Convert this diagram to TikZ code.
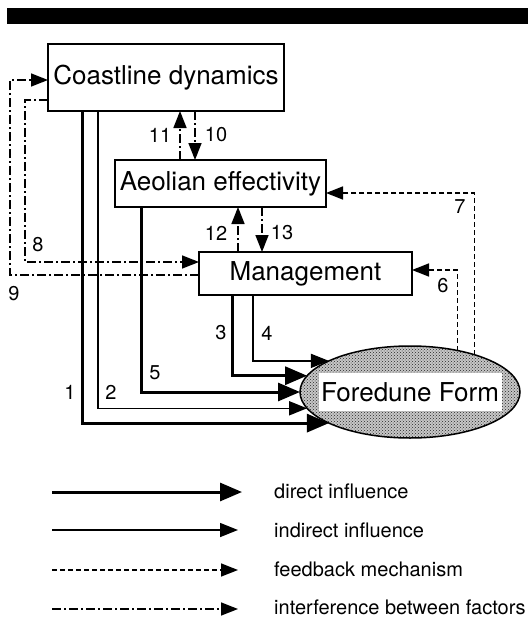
\documentclass[tikz,border=0pt]{standalone}
\usepackage{fontspec}
\setmainfont{TeX Gyre Heros}
\usetikzlibrary{arrows.meta,shapes.geometric,patterns}
\newcommand\myboxfont{\fontsize{26pt}{30pt}\selectfont}
\newcommand\mylabfont{\fontsize{20pt}{24pt}\selectfont}
\newcommand\mylegfont{\fontsize{20pt}{24pt}\selectfont}
\begin{document}
\begin{tikzpicture}[x=1pt,y=-1pt,
  box/.style={draw, line width=1.5pt, inner sep=0pt, outer sep=0pt, font=\myboxfont},
  lab/.style={font=\mylabfont, inner sep=0pt},
  leg/.style={font=\mylegfont, inner sep=0pt, anchor=base west},
  direct/.style={line width=3pt, -{Triangle[length=22pt,width=18pt]}},
  indirect/.style={line width=1.5pt, -{Triangle[length=18pt,width=14pt]}},
  feedback/.style={line width=1.5pt, dash pattern=on 5pt off 3pt, -{Triangle[length=17pt,width=13pt]}},
  interf/.style={line width=1.5pt, dash pattern=on 9pt off 3pt on 2pt off 3pt, -{Triangle[length=17pt,width=13pt]}},
]
\useasboundingbox (0,0) rectangle (528,618);
\fill (7,8) rectangle (528,24);

\node[box, minimum width=236pt, minimum height=67pt] (C) at (166,77.5) {Coastline dynamics};
\node[box, minimum width=211pt, minimum height=47pt] (A) at (220.5,183.5) {Aeolian effectivity};
\node[box, minimum width=213pt, minimum height=43pt] (M) at (305.5,273.5) {Management};
\node[ellipse, draw, line width=1.5pt, preaction={fill=black!22}, pattern=crosshatch dots, pattern color=black!85, minimum width=220pt, minimum height=92pt, inner sep=0pt, outer sep=0pt] (F) at (410,392) {};
\node[fill=white, font=\myboxfont, inner sep=0pt, minimum width=183pt, minimum height=38pt] (Ft) at (F.center) {Foredune Form};

% direct / indirect influences
\draw[direct] (C.south -| 82,0) |- (F.201);
\draw[indirect] (C.south -| 98,0) |- (F.189);
\draw[direct] (A.south -| 141,0) |- (F.180);
\draw[direct] (M.south -| 232,0) |- (F.171);
\draw[indirect] (M.south -| 253,0) |- (F.159);

% feedback
\draw[feedback] (F.41) |- (M.east |- 0,270);
\draw[feedback] (F.30) |- (A.east |- 0,193);

% interference
\draw[interf] (A.north -| 180,0) -- (C.south -| 180,0);
\draw[interf] (C.south -| 195,0) -- (A.north -| 195,0);
\draw[interf] (M.north -| 238,0) -- (A.south -| 238,0);
\draw[interf] (A.south -| 262,0) -- (M.north -| 262,0);
\coordinate (c8a) at (25,100);
\coordinate (c8b) at (25,262);
\draw[interf] (C.west |- c8a) -- (c8a) -- (c8b) -- (M.west |- c8b);
\coordinate (c9a) at (10,275);
\coordinate (c9b) at (10,80);
\draw[interf] (M.west |- c9a) -- (c9a) -- (c9b) -- (C.west |- c9b);

% labels
\node[lab] (n1) at (70,392) {1};
\node[lab] (n2) at (111,392) {2};
\node[lab] (n3) at (221,333) {3};
\node[lab] (n4) at (267,333) {4};
\node[lab] (n5) at (155,373) {5};
\node[lab] (n6) at (443,286) {6};
\node[lab] (n7) at (460,207) {7};
\node[lab] (n8) at (38,245) {8};
\node[lab] (n9) at (14,294) {9};
\node[lab] (n10) at (216,135) {10};
\node[lab] (n11) at (160,135) {11};
\node[lab] (n12) at (216,233) {12};
\node[lab] (n13) at (282,233) {13};

% legend
\coordinate (L1s) at (52,492); \coordinate (L1e) at (242,492);
\coordinate (L2s) at (52,530); \coordinate (L2e) at (238,530);
\coordinate (L3s) at (52,570); \coordinate (L3e) at (238,570);
\coordinate (L4s) at (52,609); \coordinate (L4e) at (238,609);
\draw[direct] (L1s) -- (L1e);
\draw[indirect] (L2s) -- (L2e);
\draw[feedback] (L3s) -- (L3e);
\draw[interf] (L4s) -- (L4e);
\node[leg] (T1) at (274,498) {direct influence};
\node[leg] (T2) at (274,537) {indirect influence};
\node[leg] (T3) at (274,576) {feedback mechanism};
\node[leg] (T4) at (274,614) {interference between factors};
\end{tikzpicture}
\end{document}
